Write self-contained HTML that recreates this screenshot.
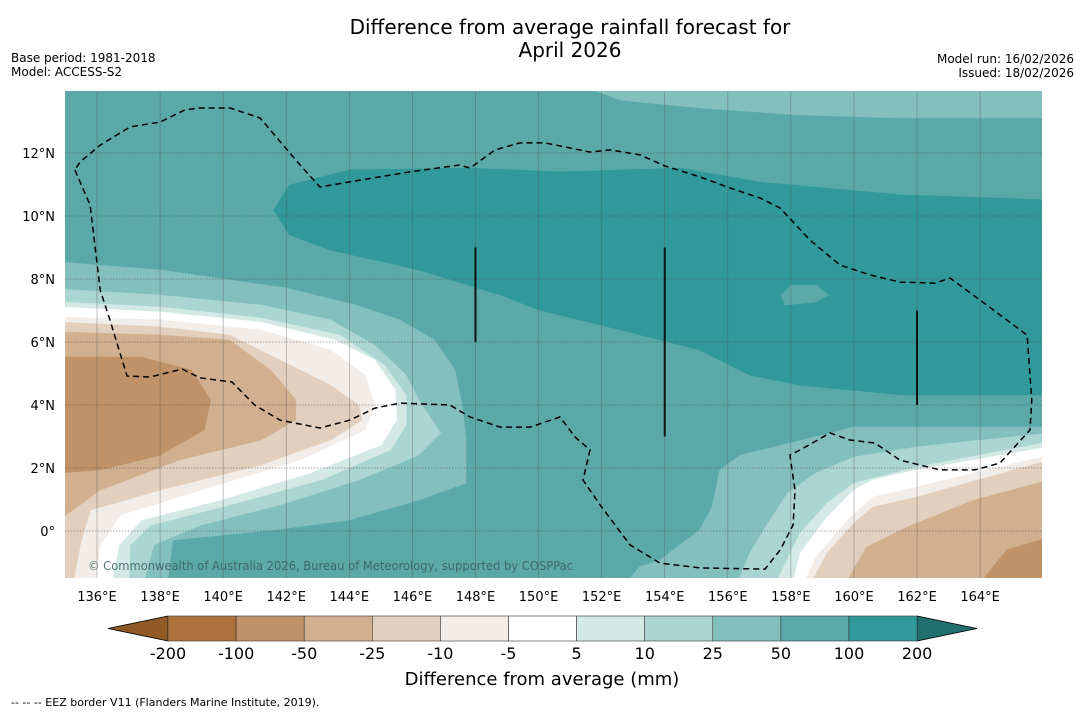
<!DOCTYPE html>
<html><head><meta charset="utf-8">
<style>
html,body{margin:0;padding:0;background:#fff;}
body{width:1085px;height:713px;overflow:hidden;font-family:"Liberation Sans","DejaVu Sans",sans-serif;}
svg text{font-family:"DejaVu Sans","Liberation Sans",sans-serif;}
</style></head>
<body>
<svg id="chart" width="1085" height="713" xmlns="http://www.w3.org/2000/svg">
<text x="570" y="34" font-size="20" text-anchor="middle" fill="#000">Difference from average rainfall forecast for</text>
<text x="570" y="57" font-size="20" text-anchor="middle" fill="#000">April 2026</text>
<text x="11" y="62" font-size="12">Base period: 1981-2018</text>
<text x="11" y="76" font-size="12">Model: ACCESS-S2</text>
<text x="1074" y="63" font-size="12" text-anchor="end">Model run: 16/02/2026</text>
<text x="1074" y="77" font-size="12" text-anchor="end">Issued: 18/02/2026</text>
<defs><clipPath id="mapclip"><rect x="65" y="91" width="977" height="487"/></clipPath></defs>
<g id="map" clip-path="url(#mapclip)"></g>
<g id="axes"></g>
<g id="cbar"></g>
<text x="542" y="685" font-size="18" text-anchor="middle">Difference from average (mm)</text>
<text x="11" y="706" font-size="11">--  --  -- EEZ border V11 (Flanders Marine Institute, 2019).</text>
</svg>
<script>
// ---- data ----
const levels = ["-200","-100","-50","-25","-10","-5","5","10","25","50","100","200"];
const levelColors = ["#ac733e","#bf9267","#d1b08f","#e3cfbd","#f2ede9","#ffffff","#d4e9e6","#abd5d3","#82bfbd","#5aa9a8","#31999a"];
const extLow = "#8f5a26", extHigh = "#216f6e";
const lonTicks = [136,138,140,142,144,146,148,150,152,154,156,158,160,162,164];
const latTicks = [0,2,4,6,8,10,12];
const contourTop25 = [151.2,14.2, 152.6,13.68, 155.1,13.43, 158.3,13.21, 161.5,13.11, 166.2,13.11, 166.2,14.2];
const contour100 = [141.6,10.19, 142.1,10.98, 144,11.46, 147.8,11.52, 150.7,11.4, 154.5,11.52, 157,11.08, 161.5,10.67, 166.2,10.51, 166.2,4.32, 161.5,4.32, 158.3,4.63, 156.7,4.95, 155.1,5.75, 152.6,6.38, 150,7.02, 148.8,7.49, 146.2,8.29, 143.4,8.92, 142.1,9.4];
const island50 = [157.7,7.49, 158,7.81, 158.8,7.81, 159.2,7.49, 158.8,7.27, 157.8,7.17];
const left25 = [134.8,8.54, 138,8.29, 142,7.71, 144.2,7.17, 145.6,6.7, 146.7,6.06, 147.35,5.11, 147.6,3.84, 147.7,2.89, 147.7,1.52, 146.2,0.98, 144,0.35, 141.55,0.03, 138.4,-0.29, 138.2,-1.9, 134.8,-1.9];
const left10 = [134.8,7.68, 138,7.49, 141.2,7.17, 143.4,6.7, 144.8,5.9, 145.8,4.95, 146.2,4.16, 146.9,3.11, 146.2,2.41, 144.3,1.62, 141.8,0.83, 139.3,0.19, 137.8,-0.44, 137.4,-1.9, 134.8,-1.9];
const left5 = [134.8,7.27, 138,7.11, 141.2,6.76, 143.7,6.22, 145.1,5.27, 145.8,4.32, 145.8,3.37, 145.3,2.57, 143.1,1.62, 140.2,0.83, 137.7,0.19, 137.05,-0.44, 137,-1.9, 134.8,-1.9];
const leftWhite = [134.8,7.11, 138,6.95, 141.2,6.63, 143.55,6.06, 144.8,5.43, 145.45,4.48, 145.5,3.52, 145,2.73, 142.75,1.84, 139.9,0.98, 137.4,0.35, 136.7,-0.44, 136.4,-1.9, 134.8,-1.9];
const leftM10 = [134.8,6.79, 138,6.7, 141.2,6.38, 143.4,5.75, 144.5,4.95, 144.8,4.0, 144.5,3.21, 142.4,2.25, 139.3,1.3, 136.75,0.51, 136.1,-0.44, 135.9,-1.9, 134.8,-1.9];
const leftM25 = [134.8,6.63, 138,6.48, 140.2,6.22, 141.8,5.43, 143.4,4.63, 144.3,4.0, 144.4,3.52, 143.4,2.89, 141.2,2.1, 138,1.3, 135.8,0.67, 135.5,-0.29, 135.2,-1.9, 134.8,-1.9];
const leftM50 = [134.8,6.32, 138,6.22, 140.2,6.06, 141.5,5.11, 142.3,4.16, 142.3,3.52, 141.2,2.89, 138.6,2.25, 136.1,1.3, 134.8,0.35];
const leftM100 = [134.8,5.52, 137.4,5.52, 139,5.11, 139.6,4.16, 139.4,3.21, 138,2.41, 136.1,1.94, 134.8,1.84];
const right25 = [152.6,-1.9, 153.2,-1.14, 153.85,-0.92, 155.1,0.03, 155.5,0.76, 155.75,1.94, 156.4,2.41, 158,2.79, 160,3.3, 166.2,3.3, 166.2,-1.9];
const right10 = [156.2,-1.9, 156.7,-0.7, 157.2,0.13, 157.9,1.21, 158.8,1.84, 160,2.35, 162,2.67, 166.2,3.11, 166.2,-1.9];
const right5 = [157.4,-1.9, 158.3,-0.06, 159.15,0.89, 160,1.52, 162,2.03, 166.2,2.83, 166.2,-1.9];
const rightWhite = [158,-1.9, 158.3,-0.7, 159.15,0.44, 160,1.3, 160.6,1.62, 162,1.94, 166.2,2.67, 166.2,-1.9];
const rightM10 = [158.3,-1.9, 158.8,-0.83, 159.8,0.35, 160.6,1.08, 162,1.4, 166.2,2.41, 166.2,-1.9];
const rightM25 = [158.5,-1.9, 159.15,-0.7, 160,0.25, 160.6,0.76, 162,1.08, 166.2,2.25, 166.2,-1.9];
const rightM50 = [159.6,-1.9, 160.4,-0.51, 161.7,0.13, 163.8,0.98, 166.2,1.62, 166.2,-1.9];
const rightM100 = [163.8,-1.9, 164.85,-0.6, 166.2,-0.19, 166.2,-1.9];
const eez = [135.3,11.46, 135.78,10.35, 136.1,7.65, 136.41,6.7, 136.95,4.92, 137.68,4.89, 138.7,5.14, 139.27,4.86, 140.28,4.73, 141.0,4.0, 141.8,3.52, 143.07,3.27, 144.02,3.52, 144.81,3.9, 145.61,4.06, 147.19,4.0, 147.83,3.62, 148.78,3.3, 149.73,3.3, 150.68,3.62, 151.16,2.98, 151.63,2.57, 151.41,1.62, 151.95,0.83, 152.9,-0.44, 153.85,-1.02, 155.12,-1.17, 157.18,-1.21, 157.66,-0.6, 158.07,0.19, 158.13,1.3, 157.97,2.41, 158.29,2.57, 159.24,3.11, 159.87,2.89, 160.67,2.79, 161.46,2.25, 162.73,1.94, 163.84,1.94, 164.63,2.16, 165.58,3.21, 165.64,4.16, 165.49,6.22, 164.0,7.33, 163.05,8.03, 162.57,7.87, 161.46,7.9, 160.51,8.13, 159.56,8.44, 158.6,9.24, 157.66,10.25, 157.02,10.57, 156.07,10.89, 155.12,11.24, 154.0,11.59, 153.22,11.94, 152.27,12.1, 151.63,12.03, 151.0,12.16, 150.2,12.32, 149.41,12.32, 148.62,12.1, 147.83,11.52, 147.5,11.62, 145.92,11.4, 144.34,11.14, 143.07,10.92, 142.44,11.62, 141.17,13.11, 140.22,13.43, 139.27,13.43, 138.79,13.37, 138.0,12.98, 137.05,12.83, 136.1,12.25, 135.46,11.71, 135.3,11.46];
const blackLines = [[148,9.0,6.0],[154,9.0,3.0],[162,7.0,4.0]];

// ---- axis functions ----
const X = lon => 97 + (lon - 136) * 31.54;
const Y = lat => 531 - lat * 31.5;
const NS = "http://www.w3.org/2000/svg";
const map = document.getElementById('map');
const axes = document.getElementById('axes');
const cbar = document.getElementById('cbar');
function mk(tag, attrs, parent){ const e=document.createElementNS(NS,tag); for(const k in attrs) e.setAttribute(k,attrs[k]); parent.appendChild(e); return e; }
function pts(arr){ let s=[]; for(let i=0;i<arr.length;i+=2) s.push(X(arr[i]).toFixed(1)+','+Y(arr[i+1]).toFixed(1)); return s.join(' '); }

const bg = mk('rect',{x:60,y:85,width:990,height:500,fill:levelColors[9]},map);


const layers = [
 [contourTop25,8,'contour-top-25'],[contour100,10,'contour-100'],[island50,9,'contour-island-50'],
 [left25,8,'contour-left-25'],[left10,7,'contour-left-10'],[left5,6,'contour-left-5'],[leftWhite,5,'contour-left-near-zero'],
 [leftM10,4,'contour-left-minus10'],[leftM25,3,'contour-left-minus25'],[leftM50,2,'contour-left-minus50'],[leftM100,1,'contour-left-minus100'],
 [right25,8,'contour-right-25'],[right10,7,'contour-right-10'],[right5,6,'contour-right-5'],[rightWhite,5,'contour-right-near-zero'],
 [rightM10,4,'contour-right-minus10'],[rightM25,3,'contour-right-minus25'],[rightM50,2,'contour-right-minus50'],[rightM100,1,'contour-right-minus100']
];
layers.forEach(l=>{
  const p = mk('polygon',{points:pts(l[0]),fill:levelColors[l[1]],stroke:levelColors[l[1]],'stroke-width':0.6},map);
  
  
});
lonTicks.forEach(lo=>{
  const g = mk('line',{x1:X(lo),x2:X(lo),y1:91,y2:578,stroke:'#555','stroke-width':0.6,'stroke-opacity':0.6},map);
  
  
});
latTicks.forEach(la=>{
  const g = mk('line',{x1:65,x2:1042,y1:Y(la),y2:Y(la),stroke:'#555','stroke-width':0.8,'stroke-dasharray':'1.5,1.5','stroke-opacity':0.7},map);
  
  
});
const ez = mk('polyline',{points:pts(eez),fill:'none',stroke:'#000','stroke-width':1.5,'stroke-dasharray':'6,4'},map);


blackLines.forEach(b=>{
  const l = mk('line',{x1:X(b[0]),x2:X(b[0]),y1:Y(b[1]),y2:Y(b[2]),stroke:'#111','stroke-width':2},map);
  
  
});
const cp = mk('text',{x:88,y:570,'font-size':12,fill:'#3a5f60','fill-opacity':0.85,textLength:485,lengthAdjust:'spacingAndGlyphs'},map);
cp.textContent = '© Commonwealth of Australia 2026, Bureau of Meteorology, supported by COSPPac';



lonTicks.forEach(lo=>{
  const t = mk('text',{x:X(lo),y:601,'font-size':13,'text-anchor':'middle'},axes);
  t.textContent = lo + '°E';
  
  
});
latTicks.forEach(la=>{
  const t = mk('text',{x:55,y:Y(la)+5,'font-size':13,'text-anchor':'end'},axes);
  t.textContent = la===0 ? '0°' : la + '°N';
  
  
});

const cbX0 = 168, cbW = 68.1, cbY = 616, cbH = 25;
const nb = levelColors.length;
const lt = mk('polygon',{points:`${cbX0},${cbY} ${cbX0},${cbY+cbH} 108,${cbY+cbH/2}`,fill:extLow,stroke:'#000','stroke-width':0.8},cbar);


const rt = mk('polygon',{points:`${cbX0+nb*cbW},${cbY} ${cbX0+nb*cbW},${cbY+cbH} 977,${cbY+cbH/2}`,fill:extHigh,stroke:'#000','stroke-width':0.8},cbar);


levelColors.forEach((c,i)=>{
  const r = mk('rect',{x:cbX0+i*cbW,y:cbY,width:cbW,height:cbH,fill:c,stroke:'#333','stroke-width':0.6},cbar);
  
  
});
levels.forEach((lv,i)=>{
  const t = mk('text',{x:cbX0+i*cbW,y:659,'font-size':16,'text-anchor':'middle'},cbar);
  t.textContent = lv;
  
  
});
</script>
</body></html>
